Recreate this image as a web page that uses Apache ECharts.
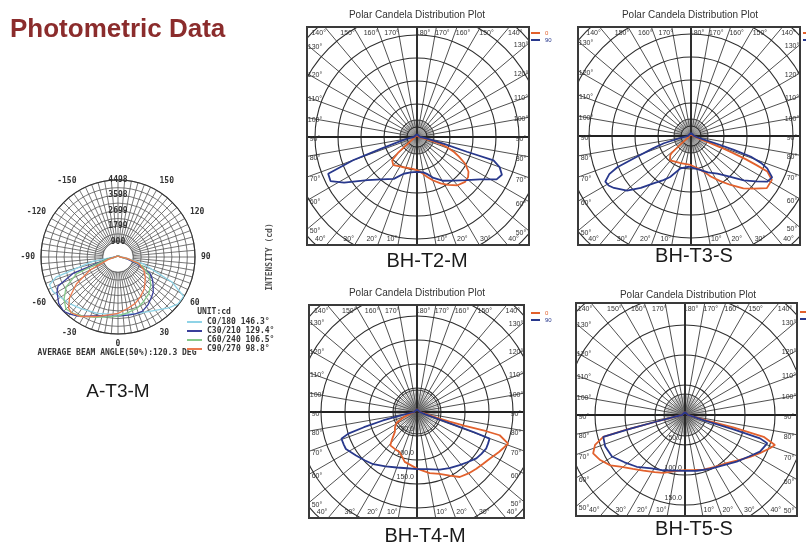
<!DOCTYPE html>
<html>
<head>
<meta charset="utf-8">
<script src="https://cdn.jsdelivr.net/npm/echarts@6/dist/echarts.min.js"></script>
<style>html,body{margin:0;padding:0;background:#fff;}#chart{width:806px;height:548px;}</style>
</head>
<body>
<div id="chart"></div>
<script>
// ---------------- texts ----------------
const pageTitle = 'Photometric Data';
const plotTitle = 'Polar Candela Distribution Plot';
const aCaption = 'A-T3-M';
const aBeamText = 'AVERAGE BEAM ANGLE(50%):120.3 DEG';
const aUnitText = 'UNIT:cd';
const aAxisTitle = 'INTENSITY (cd)';
const bhCaptions = ['BH-T2-M', 'BH-T3-S', 'BH-T4-M', 'BH-T5-S'];

// ---------------- A-T3-M (left) ----------------
const aMax = 4498;
const aRingLabels = ['900', '1799', '2699', '3598', '4498'];
const aAngleTicks = [-150, -120, -90, -60, -30, 0, 30, 60, 90, 120, 150];
const aNames = ['C0/180 146.3°', 'C30/210 129.4°', 'C60/240 106.5°', 'C90/270 98.8°'];
const aC0Angles  = [-180,-90,-80,-72,-68,-62,-55,-45,-35,-20,0,20,35,45,52,59,65,75,85,90,180];
const aC0Values  = [80,200,1500,3800,4320,4300,4100,3900,3700,3500,3370,3500,3800,4200,4450,4480,3500,1500,400,200,80];
const aC30Angles = [-180,-90,-80,-70,-64,-60,-52,-45,-40,-34,-25,-15,-8,0,10,17,24,32,40,45,52,57,63,70,78,90,180];
const aC30Values = [80,150,600,2800,3900,4110,4400,4490,4350,4170,3800,3550,3490,3450,3450,3470,3480,3300,3050,2910,2600,2400,2090,1200,500,150,80];
const aC60Angles = [-180,-90,-78,-68,-60,-52,-45,-38,-30,-20,-10,0,10,20,30,40,50,60,70,80,90,180];
const aC60Values = [80,120,700,2600,3500,4000,4300,4200,4000,3750,3550,3450,3300,3200,3000,2800,2500,2100,1500,600,120,80];
const aC90Angles = [-180,-90,-75,-65,-57,-50,-44,-40,-32,-20,-8,0,11,20,29,40,53,63,73,82,90,180];
const aC90Values = [60,100,600,1800,2900,3700,4150,4250,4100,3700,3400,3300,3050,2900,2680,2400,2000,1700,1270,500,100,60];

// ---------------- BH plots ----------------
const bhLegendNames = ['0', '90'];
const bhTickAngles = [10,20,30,40,50,60,70,80,90,100,110,120,130,140,150,160,170,180];
const bhRingStep = 50;
const bhRingLabels = ['50.0', '100.0', '150.0'];

const t2C0Angles  = [-180,-135,-90,-70,-60,-55,-50,-47,-40,-30,-24,-15,-6,0,7,14,20,27,33,40,47,52,56,61,65,68,71,74,76,80,90,135,180];
const t2C0Values  = [4,4,4,7,11,22,54,74,80,74,72,70,70,72,78,89,100,113,124,137,143,141,135,120,100,87,70,52,26,13,4,4,4];
const t2C90Angles = [-180,-135,-90,-85,-80,-75,-72,-70,-67.5,-63,-58,-49,-40,-29,-20,-10,0,10,15,22,31,40,49,56,62,66,70,73,73.5,76,80,85,90,135,180];
const t2C90Values = [6,6,7,13,22,43,83,148,209,211,187,143,120,104,85,78,76,78,83,96,111,124,143,165,196,202,191,174,113,59,26,13,7,6,6];

const t3C0Angles  = [-180,-90,-60,-52,-49,-47.5,-41,-30,-21,-1,10,20,26,33,39,45,50,55.5,61.5,65,66,67,68,69,70,72,80,90,180];
const t3C0Values  = [4,4,9,26,54,61,70,65,63,63,70,83,98,117,137,161,178,200,200,183,157,130,98,67,39,17,9,4,4];
const t3C90Angles = [-180,-90,-80,-75,-72,-69,-67,-65,-62,-59,-56,-49.5,-44,-38,-32,-27,-18,-4,5,15,25,35,43,50,55,59,63,67,69,71,72,73,74,78,90,180];
const t3C90Values = [7,7,22,61,87,126,174,196,211,209,202,183,157,130,113,100,74,67,70,76,87,100,120,150,172,193,198,180,163,137,98,65,33,13,7,7];

const t4C0Angles  = [-180,-90,-75,-68,-62,-55,-48,-43,-38.7,-30,-23.4,-13.8,0,11.7,20,27.3,33.3,40,46.3,52,57.3,64,70.8,74.3,74.5,74,73.5,74,78,90,180];
const t4C0Values  = [6,6,17,31,48,56,62,75,89,90,91,107,118,130,137,149,162,167,171,175,180,190,201,179,150,104,71,42,17,6,6];
const t4C90Angles = [-180,-90,-80,-77,-76,-74,-72.5,-70.5,-66,-62.5,-54.5,-47,-40,-30,-20,-10,0,10,21.5,30,38.7,45,52,57,62,66,69.8,70.5,71,72,75,90,180];
const t4C90Values = [6,6,21,52,73,115,150,167,167,167,156,148,142,131,123,119,119,121,129,135,142,148,157,160,163,162,161,125,83,42,17,6,6];

const t5C0Angles  = [-180,-90,-80,-77,-76,-75,-71.6,-67.3,-62,-56,-51.5,-44,-36.8,-28,-20.6,-10,0,10,18.6,30,40.8,50,57.3,63,68.6,71.6,74.5,75.5,76,80,90,180];
const t5C0Values  = [5,5,20,50,100,141,158,166,160,150,138,125,116,108,103,95,92,93,96,100,106,117,129,140,152,158,136,83,33,13,5,5];
const t5C90Angles = [-180,-90,-80,-77,-76,-75,-68.4,-60.4,-52,-43,-32,-21.5,-10,0,12,25,37,48,57,64,71,72.7,73.5,74,80,90,180];
const t5C90Values = [5,5,20,50,92,141,143,140,128,118,105,99,94,93,95,99,105,116,127,139,145,131,83,33,13,5,5];

const bhData = [
  [[t2C0Angles, t2C0Values], [t2C90Angles, t2C90Values]],
  [[t3C0Angles, t3C0Values], [t3C90Angles, t3C90Values]],
  [[t4C0Angles, t4C0Values], [t4C90Angles, t4C90Values]],
  [[t5C0Angles, t5C0Values], [t5C90Angles, t5C90Values]]
];

// ---------------- layout & style ----------------
const W = 806, H = 548;
const ORANGE = '#e2612d', NAVY = '#28388c';
const aColors = ['#8fd3e6', '#3a3f9a', '#86c98a', '#ea7a4f'];
const MONO = '"DejaVu Sans Mono", monospace';
const SANS = '"Liberation Sans", Arial, sans-serif';
const aCenter = [118, 257], aRadius = 77;
const bhLayout = [
  {center: [417, 137], box: [307, 27, 529, 245], outerPx: 158, ringPx: 23, gridOffset: 10, dense: 17, title: [417, 15], caption: [427, 261], legend: [531, 30], showRing: false},
  {center: [691, 136], box: [578, 27, 800, 245], outerPx: 158, ringPx: 23, gridOffset: 10, dense: 17, title: [690, 15], caption: [694, 256], legend: [803, 30], showRing: false},
  {center: [417, 412], box: [309, 305, 524, 518], outerPx: 156, ringPx: 24, gridOffset: 0, dense: 22, title: [417, 293], caption: [425, 536], legend: [531, 310], showRing: true},
  {center: [685, 415], box: [576, 303, 797, 516], outerPx: 160, ringPx: 30, gridOffset: 0, dense: 21, title: [688, 295], caption: [694, 529], legend: [800, 309], showRing: true}
];

const polars = [], angleAxes = [], radiusAxes = [], series = [], legends = [], elements = [];
const off = {show: false};
function addPolar(center, radius, ang, rad) {
  const idx = polars.length;
  polars.push({center: center, radius: radius});
  angleAxes.push(Object.assign({polarIndex: idx, type: 'value', min: 0, max: 360, axisTick: off, axisLabel: off, axisLine: off, splitLine: off, silent: true}, ang));
  radiusAxes.push(Object.assign({polarIndex: idx, type: 'value', min: 0, axisTick: off, axisLabel: off, axisLine: off, splitLine: off, silent: true}, rad));
  return idx;
}
function text(x, y, str, font, fill, extra) {
  return Object.assign({type: 'text', x: x, y: y, z: 20, silent: true,
    style: {text: str, font: font, fill: fill, align: 'center', verticalAlign: 'middle', textAlign: 'center', textVerticalAlign: 'middle'}}, extra || {});
}

// ----- left plot -----
const pA = addPolar(aCenter, [0, aRadius],
  {startAngle: 90, clockwise: false, interval: 5, z: 12,
   axisLine: {show: true, lineStyle: {color: '#333', width: 1.2}},
   splitLine: {show: true, lineStyle: {color: '#555', width: 0.8}},
   axisLabel: {show: true, margin: 6, color: '#333', fontSize: 8, fontWeight: 'bold', fontFamily: MONO,
     formatter: function (v) { const t = Math.round(v - 180); return aAngleTicks.indexOf(t) >= 0 && v % 30 === 0 ? String(t) : ''; }}},
  {max: aMax, interval: aMax / 10, z: 12, splitLine: {show: true, lineStyle: {color: '#555', width: 0.8}}});
addPolar(aCenter, [0, aRadius],
  {startAngle: 90, clockwise: false, interval: 90, z: 15},
  {max: aMax, interval: aMax / 10, z: 15,
   axisLabel: {show: true, margin: 0, align: 'center', verticalAlign: 'middle', color: '#333', fontSize: 8, fontWeight: 'bold', fontFamily: MONO,
     formatter: function (v) { const k = Math.round(v / (aMax / 10)); return (k % 2 === 0 && k > 0) ? aRingLabels[k / 2 - 1] : ''; }}});
elements.push({type: 'circle', shape: {cx: aCenter[0], cy: aCenter[1], r: 14.5}, style: {fill: '#fff'}, z: 13, silent: true});
const aSets = [[aC0Angles, aC0Values], [aC30Angles, aC30Values], [aC60Angles, aC60Values], [aC90Angles, aC90Values]];
aSets.forEach(function (s, i) {
  series.push({type: 'line', name: aNames[i], coordinateSystem: 'polar', polarIndex: pA, z: 14, symbol: 'none',
    color: aColors[i], lineStyle: {color: aColors[i], width: 1.3},
    data: s[0].map(function (t, j) { return [s[1][j], 180 + t]; })});
});
legends.push({data: aNames, orient: 'vertical', left: 187, top: 318, padding: 0, icon: 'rect', itemWidth: 15, itemHeight: 2, itemGap: 1, z: 20,
  selectedMode: false, textStyle: {fontSize: 8, fontWeight: 'bold', fontFamily: MONO, color: '#333', lineHeight: 8}});
elements.push(text(214, 312, aUnitText, 'bold 8px ' + MONO, '#333'));
elements.push(text(117, 353, aBeamText, 'bold 8px ' + MONO, '#333'));
elements.push(text(118, 392, aCaption, '19px ' + SANS, '#1a1a1a'));
elements.push(text(270, 257, aAxisTitle, 'bold 8px ' + MONO, '#555', {rotation: Math.PI / 2}));
elements.push({type: 'text', x: 10, y: 30, z: 20, silent: true,
  style: {text: pageTitle, font: 'bold 26px ' + SANS, fill: '#8b2c2c', align: 'left', textAlign: 'left', verticalAlign: 'middle', textVerticalAlign: 'middle'}});

// ----- BH plots -----
const toV = function (t) { return t < 0 ? 360 + t : t; };
bhLayout.forEach(function (L, p) {
  const gridMax = (L.outerPx - L.gridOffset) * bhRingStep / L.ringPx;
  // grid rings and 10-degree spokes
  addPolar(L.center, [L.gridOffset, L.outerPx],
    {startAngle: 270, clockwise: false, interval: 10, z: 0,
     splitLine: {show: true, lineStyle: {color: '#3c3c3c', width: 0.9}}},
    {max: gridMax, interval: bhRingStep, z: 1,
     splitLine: {show: true, lineStyle: {color: '#2e2e2e', width: 1.1}},
     axisLabel: {show: L.showRing, margin: -3, align: 'right', color: '#333', fontSize: 7, fontFamily: SANS, verticalAlign: 'bottom', padding: [0, 0, 3, 0],
       formatter: function (v) { const k = Math.round(v / bhRingStep) - 1; return (Math.abs(v - (k + 1) * bhRingStep) < 1e-6 && bhRingLabels[k]) || ''; }}});
  // heavy cross through the centre
  addPolar(L.center, [0, L.outerPx],
    {startAngle: 270, clockwise: false, interval: 90, z: 1,
     splitLine: {show: true, lineStyle: {color: '#222', width: 1.8}}},
    {max: 1});
  // dense spokes near the centre
  addPolar(L.center, [0, L.dense],
    {startAngle: 270, clockwise: false, interval: 5, z: 0,
     axisLine: {show: true, lineStyle: {color: '#333', width: 1}},
     splitLine: {show: true, lineStyle: {color: '#666', width: 0.6}}},
    {max: 1});
  // data polar (value 0 at the centre, same scale as the rings)
  const dataPolar = addPolar(L.center, [0, 6 * L.ringPx],
    {startAngle: 270, clockwise: false, interval: 90},
    {max: 6 * bhRingStep, interval: bhRingStep});
  bhData[p].forEach(function (s, i) {
    const col = i === 0 ? ORANGE : NAVY;
    series.push({type: 'line', name: bhLegendNames[i], coordinateSystem: 'polar', polarIndex: dataPolar, z: 2, symbol: 'none',
      color: col, lineStyle: {color: col, width: 1.8},
      data: s[0].map(function (t, j) { return [s[1][j], toV(t)]; })});
  });
  legends.push({data: [{name: '0', textStyle: {color: ORANGE}}, {name: '90', textStyle: {color: NAVY}}],
    orient: 'vertical', left: L.legend[0], top: L.legend[1], padding: 0, icon: 'rect', itemWidth: 9, itemHeight: 2, itemGap: 1, z: 20,
    selectedMode: false, textStyle: {fontSize: 6, fontFamily: SANS, lineHeight: 6}});
  const b = L.box;
  elements.push({type: 'rect', shape: {x: b[0], y: b[1], width: b[2] - b[0], height: b[3] - b[1]},
    style: {fill: null, stroke: '#3a3a3a', lineWidth: 2}, z: 11, silent: true});
  bhTickAngles.forEach(function (a) {
    [-1, 1].forEach(function (side) {
      if (a === 180 && side === -1) return;
      const rad = a * Math.PI / 180;
      const dx = side * Math.sin(rad), dy = Math.cos(rad);
      const tx = Math.abs(dx) < 1e-9 ? Infinity : (dx > 0 ? (b[2] - L.center[0]) / dx : (b[0] - L.center[0]) / dx);
      const ty = Math.abs(dy) < 1e-9 ? Infinity : (dy > 0 ? (b[3] - L.center[1]) / dy : (b[1] - L.center[1]) / dy);
      let x, y;
      if (tx < ty) { y = L.center[1] + tx * dy + 2; x = side < 0 ? b[0] + 8 : b[2] - 8; }
      else { x = L.center[0] + ty * dx + side * 6; y = dy < 0 ? b[1] + 6 : b[3] - 6; }
      elements.push(text(x, y, a + '°', '7px ' + SANS, '#333', {z: 11}));
    });
  });
  elements.push(text(L.title[0], L.title[1], plotTitle, '10px ' + SANS, '#333'));
  elements.push(text(L.caption[0], L.caption[1], bhCaptions[p], '20px ' + SANS, '#1a1a1a'));
});

// ----- white mask outside the BH boxes -----
const boxes = bhLayout.map(function (L) { return L.box; });
const xs = Array.from(new Set([0, W].concat(boxes.map(function (b) { return b[0]; }), boxes.map(function (b) { return b[2]; })))).sort(function (a, b) { return a - b; });
const ys = Array.from(new Set([0, H].concat(boxes.map(function (b) { return b[1]; }), boxes.map(function (b) { return b[3]; })))).sort(function (a, b) { return a - b; });
for (let i = 0; i < xs.length - 1; i++) {
  for (let j = 0; j < ys.length - 1; j++) {
    const mx = (xs[i] + xs[i + 1]) / 2, my = (ys[j] + ys[j + 1]) / 2;
    const inside = boxes.some(function (b) { return mx > b[0] && mx < b[2] && my > b[1] && my < b[3]; });
    if (!inside) elements.push({type: 'rect', shape: {x: xs[i], y: ys[j], width: xs[i + 1] - xs[i], height: ys[j + 1] - ys[j]}, style: {fill: '#fff'}, z: 10, silent: true});
  }
}

const chart = echarts.init(document.getElementById('chart'), null, {renderer: 'canvas'});
chart.setOption({
  animation: false,
  backgroundColor: '#fff',
  polar: polars,
  angleAxis: angleAxes,
  radiusAxis: radiusAxes,
  legend: legends,
  series: series,
  graphic: {elements: elements}
});
</script>
</body>
</html>
